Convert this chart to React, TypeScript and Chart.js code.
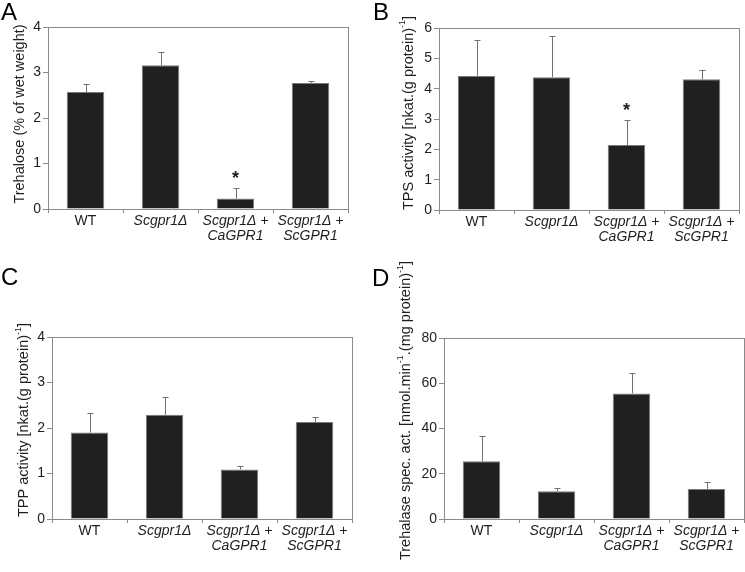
import React, { useEffect, useRef } from "react";
import { Chart, registerables } from "chart.js";

Chart.register(...registerables);

// ---------- data ----------
const categories: string[][] = [["WT"], ["Scgpr1Δ"], ["Scgpr1Δ +", "CaGPR1"], ["Scgpr1Δ +", "ScGPR1"]];

const trehaloseMean = [2.57, 3.16, 0.23, 2.77];
const trehaloseErr = [0.17, 0.28, 0.24, 0.04];
const trehaloseSig = [false, false, true, false];

const tpsMean = [4.42, 4.38, 2.14, 4.31];
const tpsErr = [1.19, 1.34, 0.82, 0.29];
const tpsSig = [false, false, true, false];

const tppMean = [1.9, 2.29, 1.09, 2.13];
const tppErr = [0.44, 0.39, 0.07, 0.11];
const tppSig = [false, false, false, false];

const trehalaseMean = [25.5, 12.3, 55.5, 13.3];
const trehalaseErr = [11.1, 1.5, 8.9, 3.1];
const trehalaseSig = [false, false, false, false];

const yMaxA = 4, yStepA = 1;
const yMaxB = 6, yStepB = 1;
const yMaxC = 4, yStepC = 1;
const yMaxD = 80, yStepD = 20;

type Seg = { t: string; sup?: boolean };
const titleA: Seg[] = [{ t: "Trehalose (% of wet weight)" }];
const titleB: Seg[] = [{ t: "TPS activity [nkat.(g protein)" }, { t: "-1", sup: true }, { t: "]" }];
const titleC: Seg[] = [{ t: "TPP activity [nkat.(g protein)" }, { t: "-1", sup: true }, { t: "]" }];
const titleD: Seg[] = [
  { t: "Trehalase spec. act. [nmol.min" },
  { t: "-1", sup: true },
  { t: ".(mg protein)" },
  { t: "-1", sup: true },
  { t: "]" },
];

const panelLetters = ["A", "B", "C", "D"];

// ---------- layout / style ----------
const W = 745;
const H = 572;
const FONT = "'Liberation Sans', Arial, Helvetica, sans-serif";
const TEXT = "#1e1e1e";
const AXIS = "#8a8a8a";
const YAXIS_W = 30;
const XAXIS_H = 45;

const panels = [
  { letter: panelLetters[0], mean: trehaloseMean, err: trehaloseErr, sig: trehaloseSig, max: yMaxA, step: yStepA, title: titleA,
    plot: { l: 48, t: 27, r: 348, b: 209 }, titlePos: { x: 19.5, y: 114 }, letterPos: { x: 1, y: 20 } },
  { letter: panelLetters[1], mean: tpsMean, err: tpsErr, sig: tpsSig, max: yMaxB, step: yStepB, title: titleB,
    plot: { l: 439, t: 28, r: 739, b: 210 }, titlePos: { x: 408.5, y: 113 }, letterPos: { x: 373, y: 20 } },
  { letter: panelLetters[2], mean: tppMean, err: tppErr, sig: tppSig, max: yMaxC, step: yStepC, title: titleC,
    plot: { l: 52, t: 337, r: 352, b: 519 }, titlePos: { x: 24, y: 420 }, letterPos: { x: 1, y: 285 } },
  { letter: panelLetters[3], mean: trehalaseMean, err: trehalaseErr, sig: trehalaseSig, max: yMaxD, step: yStepD, title: titleD,
    plot: { l: 444, t: 338, r: 744, b: 519 }, titlePos: { x: 406, y: 410.5 }, letterPos: { x: 372, y: 286 } },
];

function drawVerticalRich(ctx: CanvasRenderingContext2D, segs: Seg[], cx: number, cy: number, size: number) {
  const supSize = Math.round(size * 0.65);
  ctx.save();
  ctx.translate(cx, cy);
  ctx.rotate(-Math.PI / 2);
  ctx.fillStyle = TEXT;
  ctx.textBaseline = "middle";
  ctx.textAlign = "left";
  let total = 0;
  const widths = segs.map((s) => {
    ctx.font = `${s.sup ? supSize : size}px ${FONT}`;
    const w = ctx.measureText(s.t).width;
    total += w;
    return w;
  });
  let x = -total / 2;
  segs.forEach((s, i) => {
    ctx.font = `${s.sup ? supSize : size}px ${FONT}`;
    ctx.fillText(s.t, x, s.sup ? -size * 0.38 : 0);
    x += widths[i];
  });
  ctx.restore();
}

function makeConfig(p: (typeof panels)[number]): any {
  const decor = {
    id: "decor",
    afterDatasetsDraw(chart: any) {
      const ctx: CanvasRenderingContext2D = chart.ctx;
      const ys = chart.scales.y;
      const meta = chart.getDatasetMeta(0);
      ctx.save();
      // error bars
      ctx.strokeStyle = "#707070";
      ctx.lineWidth = 1;
      meta.data.forEach((bar: any, i: number) => {
        const x = Math.round(bar.x) + 0.5;
        const y0 = ys.getPixelForValue(p.mean[i]);
        const y1 = Math.round(ys.getPixelForValue(p.mean[i] + p.err[i])) + 0.5;
        ctx.beginPath();
        ctx.moveTo(x, y0);
        ctx.lineTo(x, y1);
        ctx.moveTo(x - 3, y1);
        ctx.lineTo(x + 3, y1);
        ctx.stroke();
        if (p.sig[i]) {
          ctx.fillStyle = TEXT;
          ctx.font = `bold 18px ${FONT}`;
          ctx.textAlign = "center";
          ctx.textBaseline = "alphabetic";
          ctx.fillText("*", bar.x, y1 - 5);
        }
      });
      // frame
      const a = chart.chartArea;
      ctx.strokeStyle = AXIS;
      ctx.lineWidth = 1;
      ctx.strokeRect(Math.round(a.left) + 0.5, Math.round(a.top) + 0.5, Math.round(a.right - a.left), Math.round(a.bottom - a.top));
      ctx.restore();
      // title + letter
      drawVerticalRich(ctx, p.title, p.titlePos.x, p.titlePos.y, 14.5);
      ctx.save();
      ctx.fillStyle = "#000";
      ctx.font = `24px ${FONT}`;
      ctx.textAlign = "left";
      ctx.textBaseline = "alphabetic";
      ctx.fillText(p.letter, p.letterPos.x, p.letterPos.y);
      ctx.restore();
    },
  };

  return {
    type: "bar",
    data: {
      labels: categories,
      datasets: [
        {
          data: p.mean,
          backgroundColor: "#202020",
          borderColor: "#7a7a7a",
          borderWidth: 1,
          barPercentage: 0.5,
          categoryPercentage: 1,
        },
      ],
    },
    options: {
      responsive: false,
      animation: false,
      events: [],
      layout: {
        autoPadding: false,
        padding: {
          left: p.plot.l - YAXIS_W,
          top: p.plot.t,
          right: W - p.plot.r,
          bottom: H - p.plot.b - XAXIS_H,
        },
      },
      plugins: { legend: { display: false }, tooltip: { enabled: false }, title: { display: false } },
      scales: {
        x: {
          offset: true,
          grid: { offset: true, drawOnChartArea: false, drawTicks: true, tickLength: 4, color: AXIS },
          border: { display: true, color: AXIS },
          ticks: {
            color: TEXT,
            padding: 1,
            maxRotation: 0,
            autoSkip: false,
            font: (c: any) => ({ family: FONT, size: 14, lineHeight: 1.05, style: c.index === 0 ? "normal" : "italic" }),
          },
          afterFit: (s: any) => {
            s.height = XAXIS_H;
          },
        },
        y: {
          min: 0,
          max: p.max,
          grid: { drawOnChartArea: false, drawTicks: true, tickLength: 5, color: AXIS },
          border: { display: true, color: AXIS },
          ticks: { stepSize: p.step, color: TEXT, padding: 2, font: { family: FONT, size: 14 } },
          afterFit: (s: any) => {
            s.width = YAXIS_W;
          },
        },
      },
    },
    plugins: [decor],
  };
}

function Panel({ p }: { p: (typeof panels)[number] }) {
  const ref = useRef<HTMLCanvasElement | null>(null);
  useEffect(() => {
    if (!ref.current) return;
    const chart = new Chart(ref.current, makeConfig(p));
    return () => chart.destroy();
  }, [p]);
  return <canvas ref={ref} width={W} height={H} style={{ position: "absolute", left: 0, top: 0, width: W, height: H }} />;
}

export default function App() {
  return (
    <div style={{ position: "absolute", left: 0, top: 0, width: W, height: H, background: "#fff", overflow: "hidden" }}>
      {panels.map((p, i) => (
        <Panel key={i} p={p} />
      ))}
    </div>
  );
}
